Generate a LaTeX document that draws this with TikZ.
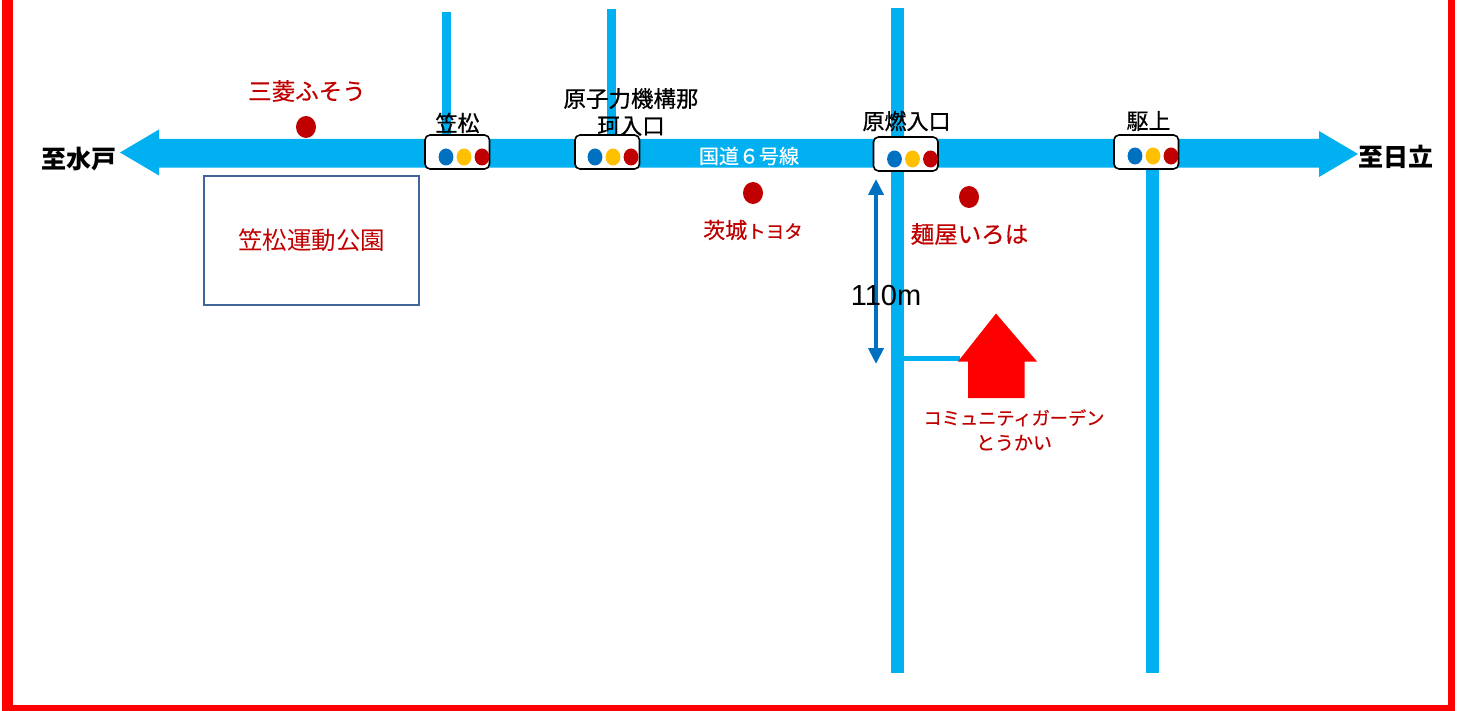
\documentclass[tikz,border=0pt]{standalone}
\usepackage{fontspec}
\setmainfont{Noto Sans CJK JP}
\newfontfamily\latinfont{Liberation Sans}
\newfontfamily\cjkheavy[FakeBold=0.7]{Noto Sans CJK JP}
\newfontfamily\cjksemi[FakeBold=0.35]{Noto Sans CJK JP}
\usetikzlibrary{arrows.meta}
\definecolor{roadblue}{HTML}{00B0F0}
\definecolor{sigblue}{HTML}{0070C0}
\definecolor{sigyellow}{HTML}{FFC000}
\definecolor{darkred}{HTML}{C00000}
\definecolor{parkline}{HTML}{41659A}
\tikzset{
 x=1pt,y=-1pt,
 road/.style={fill=roadblue,draw=none},
 sigbox/.style={draw=black,line width=1.6pt,rounded corners=5pt,fill=white},
 poi/.style={fill=darkred,draw=none},
 redlabel/.style={text=darkred,font=\cjksemi\fontsize{23.5}{26}\selectfont,inner sep=0pt,align=center},
 blacklabel/.style={text=black,font=\cjkheavy\fontsize{22}{24}\selectfont,inner sep=0pt,align=center},
 boldlabel/.style={text=black,font=\fontsize{25}{27}\selectfont\bfseries,inner sep=0pt},
 dimarrow/.style={draw=sigblue,line width=4.5pt,{Triangle[length=16pt,width=15pt]}-{Triangle[length=16pt,width=15pt]}}
}
\newcommand{\signal}[4]{%
 \draw[sigbox] (#1,#2) rectangle ++(64.5,34);
 \fill[sigblue] (#1+#3,#2+#4) ellipse [x radius=7.4pt,y radius=8.5pt];
 \fill[sigyellow] (#1+#3+18,#2+#4) ellipse [x radius=7.4pt,y radius=8.5pt];
 \fill[darkred] (#1+#3+36,#2+#4) ellipse [x radius=7.4pt,y radius=8.5pt];
}
\begin{document}
\begin{tikzpicture}
\useasboundingbox (0,0) rectangle (1461,711);
\fill[white] (0,0) rectangle (1461,711);
% frame
\fill[red] (2,0) rectangle (13,711);
\fill[red] (1448,0) rectangle (1455,711);
\fill[red] (2,704.5) rectangle (1455,711);
% side roads
\fill[road] (442,12) rectangle (451,140);
\fill[road] (607,9) rectangle (616,140);
\fill[road] (891,8) rectangle (904,673);
\fill[road] (1146,168) rectangle (1159,673);
\fill[road] (904,356) rectangle (960,361);
% main road
\fill[road] (120,152.5) -- (159,129.5) -- (159,139) -- (1319,139) -- (1319,131) -- (1358,154) -- (1319,177) -- (1319,167.7) -- (159,167.7) -- (159,175.5) -- cycle;
% signals
\signal{425}{135}{21}{22}
\signal{575}{135}{20}{22}
\signal{873.5}{137}{21}{22}
\signal{1114}{135}{21}{21}
% POIs
\fill[poi] (306,127) ellipse [x radius=10pt,y radius=11pt];
\fill[poi] (753,193) ellipse [x radius=10pt,y radius=11pt];
\fill[poi] (969,197) ellipse [x radius=10pt,y radius=11pt];
% park
\node[draw=parkline,line width=2pt,minimum width=215pt,minimum height=128pt,inner sep=0pt,text=darkred,font=\fontsize{24.5}{26}\selectfont] (park) at (311.5,240.5) {笠松運動公園};
% house
\fill[red] (996,313.5) -- (1037,361.5) -- (1024.5,361.5) -- (1024.5,398) -- (968,398) -- (968,361.5) -- (958,361.5) -- cycle;
% dimension arrow
\coordinate (dimtop) at (876,179);
\coordinate (dimbot) at (876,364);
\draw[dimarrow] (dimtop) -- (dimbot);
% labels
\node[redlabel] (l1) at (307,91) {三菱ふそう};
\node[redlabel,font=\cjksemi\fontsize{22}{24}\selectfont] (l2) at (753,230) {茨城\fontsize{18.5}{24}\selectfont トヨタ};
\node[redlabel] (l3) at (969.5,234) {麺屋いろは};
\node[redlabel,font=\cjksemi\fontsize{18.2}{25}\selectfont] (l4) at (1014,430) {コミュニティガーデン\\\fontsize{19}{25}\selectfont とうかい};
\node[boldlabel] (west) at (78.5,159) {至水戸};
\node[boldlabel] (east) at (1395.5,157) {至日立};
\node[blacklabel] (s1) at (457.5,123) {笠松};
\node[blacklabel,font=\cjkheavy\fontsize{22.5}{27}\selectfont] (s2) at (631,112) {原子力機構那\\珂入口};
\node[blacklabel] (s3) at (906.5,121) {原燃入口};
\node[blacklabel] (s4) at (1148.5,121) {駆上};
\node[text=white,font=\cjksemi\fontsize{20}{22}\selectfont,inner sep=0pt] (rt) at (749,156) {国道６号線};
\node[text=black,font=\latinfont\fontsize{29}{30}\selectfont,inner sep=0pt] (dist) at (886,296) {110m};
\end{tikzpicture}
\end{document}
